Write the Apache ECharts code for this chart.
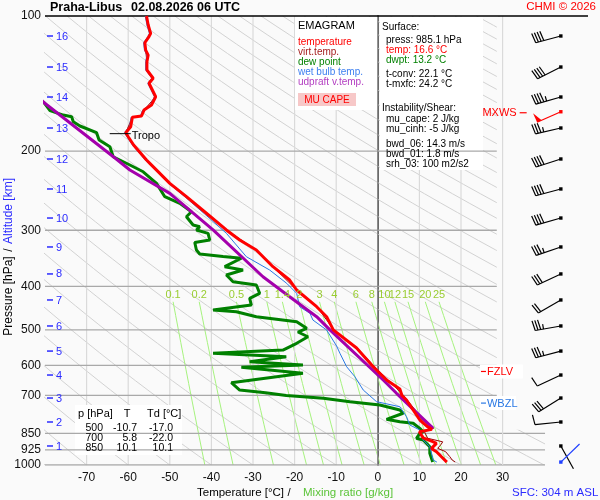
<!DOCTYPE html>
<html>
<head>
<meta charset="utf-8">
<title>Emagram Praha-Libus</title>
<script src="https://cdn.jsdelivr.net/npm/echarts@6.0.0/dist/echarts.min.js"></script>
<style>
html,body{margin:0;padding:0;background:#fafafa;}
#chart{width:600px;height:500px;}
</style>
</head>
<body>
<div id="chart"></div>
<script>
const FONT = "'Liberation Sans', Arial, Helvetica, sans-serif";
const BG = '#fafafa';

// ---------- axes / reference values ----------
const temperatureTicks = [-70, -60, -50, -40, -30, -20, -10, 0, 10, 20, 30];
const pressureTicks = [100, 200, 300, 400, 500, 600, 700, 850, 925, 1000];
const isobars = [200, 300, 400, 500, 600, 700, 850, 925, 1000];
const isothermsLight = [-70, -60, -50, -40, -30, -20, -10, 10, 20];
const altitudeKm = [1, 2, 3, 4, 5, 6, 7, 8, 9, 10, 11, 12, 13, 14, 15, 16];
const altitudeP = [907.1, 802.1, 709.3, 630.4, 557.5, 490.2, 429.0, 375.4, 326.9, 281.8, 242.8, 208.2, 177.6, 151.5, 129.9, 110.8];
const mixingRatios = [0.1, 0.2, 0.5, 1, 1.4, 2, 3, 4, 6, 8, 10, 12, 15, 20, 25];
const dryAdiabatsC = [-80, -70, -60, -50, -40, -30, -20, -10, 0, 10, 20, 30, 40, 50, 60, 70, 80, 90, 100, 110,
  120, 130, 140, 150, 160, 170, 180, 190, 200, 210, 220, 230, 240, 250, 260, 270, 280, 290, 300, 310];

// ---------- sounding: [pressure hPa, value °C] ----------
const temperature = [
  [100,-55.6],[104.7,-55.2],[109.3,-54.6],[111.2,-55.0],[114.7,-56.0],[119.1,-55.8],[122.2,-55.2],[126.4,-55.5],
  [131.9,-55.5],[137.6,-54.0],[141.2,-55.0],[151.3,-53.4],[157.8,-54.4],[162.0,-56.2],[167.0,-56.8],[168.1,-59.0],
  [176.4,-59.4],[181.9,-60.6],[185.7,-60.0],[193.8,-58.7],[209.3,-55.6],[212.9,-54.8],[235.9,-50.0],[252.6,-46.0],
  [275.0,-41.2],[299.6,-36.4],[315.4,-33.2],[332.0,-29.2],[361.7,-25.2],[387.3,-21.2],[407.6,-19.5],[444.1,-14.7],
  [467.4,-12.3],[500.0,-10.7],[548.9,-5.1],[604.0,-1.1],[614.3,-0.3],[646.7,2.1],[677.2,5.3],[700.0,5.8],
  [716.5,6.9],[754.3,8.5],[794.0,10.1],[822.0,12.0],[833.0,13.0],[843.1,10.0],[850.0,10.1],[870.0,10.9],
  [887.0,13.2],[895.0,14.1],[918.5,12.9],[934.0,14.1],[958.3,15.3],[985.1,16.6]
];
const virtualTemperature = [
  [100,-55.6],[109.3,-54.6],[114.7,-56.0],[126.4,-55.5],[131.9,-55.5],[137.6,-54.0],[141.2,-55.0],[151.3,-53.4],
  [162.0,-56.2],[167.0,-56.8],[168.1,-59.0],[181.9,-60.6],[193.8,-58.7],[209.3,-55.6],[235.9,-50.0],[275.0,-41.2],
  [299.6,-36.4],[332.0,-29.2],[361.7,-25.2],[407.6,-19.5],[444.1,-14.6],[500.0,-10.6],[548.9,-4.9],[604.0,-0.8],
  [646.7,2.5],[700.0,6.2],[754.3,9.0],[794.0,10.7],[828.6,13.4],[843.1,11.2],[850.0,11.4],[872.0,12.0],
  [888.0,15.6],[900.0,15.2],[918.0,14.4],[934.0,16.3],[958.0,17.3],[975.0,17.9],[985.1,18.6]
];
const dewPoint = [
  [152.0,-83.0],[156.0,-80.2],[162.5,-78.8],[166.2,-75.6],[167.6,-73.6],[172.0,-73.2],[175.8,-71.6],[181.9,-67.6],
  [188.9,-67.0],[195.5,-64.4],[205.8,-63.6],[214.7,-59.6],[222.3,-56.4],[235.9,-53.2],[252.6,-51.2],[261.3,-47.6],
  [272.8,-44.8],[279.9,-46.0],[292.1,-44.4],[294.6,-42.8],[299.6,-43.6],[304.8,-40.8],[315.4,-40.4],[319.5,-44.0],
  [332.0,-43.6],[338.9,-42.8],[343.2,-37.2],[346.4,-32.8],[361.7,-36.8],[367.9,-32.4],[377.5,-36.4],[390.7,-34.8],
  [397.3,-29.2],[414.6,-28.4],[425.4,-30.8],[440.3,-30.4],[451.7,-39.6],[455.6,-34.0],[467.4,-29.2],[479.6,-19.5],
  [496.2,-17.1],[500.0,-17.0],[505.6,-19.2],[518.0,-16.8],[535.8,-19.5],[554.6,-22.8],[564.0,-39.6],[573.9,-22.0],
  [588.8,-30.8],[598.9,-18.0],[606.0,-32.8],[625.0,-18.0],[655.7,-35.2],[680.8,-33.2],[690.0,-27.0],[700.0,-22.0],
  [710.2,-13.1],[722.8,-6.7],[735.2,0.5],[754.3,5.3],[767.0,6.1],[791.1,2.1],[801.0,5.3],[807.5,8.5],
  [828.6,10.1],[843.1,10.9],[850.0,10.1],[872.1,9.3],[879.6,10.9],[910.4,12.5],[941.9,12.5],[985.1,13.2]
];
const wetBulb = [
  [100,-55.9],[104.7,-55.5],[109.3,-54.9],[111.2,-55.3],[114.7,-56.3],[119.1,-56.1],[122.2,-55.5],[126.4,-55.8],
  [131.9,-55.8],[137.6,-54.3],[141.2,-55.3],[151.3,-53.7],[157.8,-54.7],[162.0,-56.5],[167.0,-57.1],[168.1,-59.3],
  [176.4,-59.7],[181.9,-60.9],[185.7,-60.3],[193.8,-59.0],[209.3,-55.9],[212.9,-55.1],[235.9,-50.3],[252.6,-46.4],
  [276.1,-41.6],[304.8,-36.4],[343.6,-31.6],[367.9,-26.0],[393.9,-21.9],[414.6,-19.5],[444.1,-18.8],[459.5,-16.3],
  [475.5,-15.6],[500.4,-12.3],[543.3,-9.9],[564.0,-9.1],[604.0,-7.5],[636.0,-5.5],[680.8,-3.5],[722.8,-0.3],
  [741.7,5.3],[780.6,6.9],[814.6,7.7],[835.6,10.1],[879.6,10.9],[910.4,12.5],[974.8,13.3],[985.1,14.2]
];
const parcelVirtualTemperature = [
  [150.0,-82.2],[156.0,-80.2],[208.5,-62.8],[220.3,-59.6],[248.3,-50.0],[299.6,-39.6],[380.8,-27.6],
  [421.9,-21.2],[467.4,-14.7],[500.0,-11.5],[646.7,1.3],[692.3,4.5],[828.6,13.3]
];

// ---------- winds: [pressure hPa, direction deg, speed kt] ----------
const windBarbs = [
  [110.8,255,40],[129.9,243,40],[151.5,254,45],[177.6,257,35],[208.2,252,40],[242.8,255,40],
  [281.8,254,40],[326.9,251,35],[375.4,245,30],[429.0,240,20],[490.2,260,35],[557.5,255,35],
  [630.4,245,10],[709.3,238,30],[802.1,264,10],[907.1,151,0]
];
const maxWind = [163.4, 246, 50];
const surfaceWind = [985.1, 46, 0];

// ---------- levels and indices ----------
const tropopause = [181.9, -60.6];
const freezingLevelP = 619;
const wetBulbZeroP = 728;
const tableRows = [[500, -10.7, -17.0], [700, 5.8, -22.0], [850, 10.1, 10.1]];
const surfaceInfo = { press: 985.1, temp: 16.6, dwpt: 13.2, tconv: 22.1, tmxfc: 24.2, height: 304 };
const indices = { muCape: 2, muCinh: -5, bwd06: 14.3, bwd01: 1.8, srh03: 100 };

// ---------- helpers ----------
const toXY = arr => arr.map(d => [d[1], d[0]]);
function mixT(w, p) { const e = w * p / (622 + w); const l = Math.log(e / 6.112); return 243.5 * l / (17.67 - l); }

const series = [];
function refLine(points, color, width, z, clip) {
  series.push({ type: 'line', data: points, showSymbol: false, symbol: 'none', silent: true, animation: false,
    clip: clip !== false, z: z, lineStyle: { color: color, width: width }, emphasis: { disabled: true } });
}

// dry adiabats
dryAdiabatsC.forEach(tc => {
  const th = tc + 273.15; const pts = [];
  for (let i = 0; i <= 48; i++) { const p = 100 * Math.pow(10, i / 48); pts.push([th * Math.pow(p / 1000, 0.2857) - 273.15, p]); }
  refLine(pts, '#d2d2d2', 1, 1);
});
// mixing ratio lines
mixingRatios.forEach(w => {
  const pts = [];
  for (let i = 0; i <= 12; i++) { const p = 433 * Math.pow(1000 / 433, i / 12); pts.push([mixT(w, p), p]); }
  refLine(pts, '#a6f27e', 1, 1);
});
// light isotherms
isothermsLight.forEach(t => refLine([[t, 100], [t, 1000]], '#dadada', 1.2, 1));

// mask behind barbs
series.push({ type: 'custom', z: 2, silent: true, animation: false, clip: false, data: [[0, 500]],
  renderItem: (params, api) => {
    const a = api.coord([28.6, 100]), b = api.coord([50, 830]), c = api.coord([40.2, 830]), d = api.coord([50, 1000]);
    return { type: 'group', children: [
      { type: 'rect', shape: { x: a[0], y: a[1] + 1, width: b[0] - a[0] + 20, height: b[1] - a[1] }, style: { fill: BG } },
      { type: 'rect', shape: { x: c[0], y: c[1] - 1, width: d[0] - c[0] + 20, height: d[1] - c[1] + 6 }, style: { fill: BG } }
    ] };
  } });

// isobars, 0 and 30 isotherm
isobars.forEach(p => refLine([[-80, p], [p >= 850 ? 40.2 : 28.6, p]], '#a9a9a9', 1.3, 4));
refLine([[0, 100], [0, 1000]], '#8f8f8f', 1.5, 4);
refLine([[30, 100], [30, 1000]], '#dadada', 1.2, 4);
// top frame
refLine([[-80, 100], [51, 100]], '#000', 1.5, 6, false);

// sounding curves
function curve(name, data, color, width, z) {
  series.push({ name: name, type: 'line', data: toXY(data), showSymbol: false, symbol: 'none', animation: false,
    silent: true, z: z, lineStyle: { color: color, width: width }, emphasis: { disabled: true } });
}
curve('dew point', dewPoint, '#008000', 3, 5);
curve('virt.temp.', virtualTemperature, '#990000', 1, 6);
curve('wet bulb temp.', wetBulb, '#2a78e4', 1, 7);
curve('udpraft v.temp.', parcelVirtualTemperature, '#a400ac', 3, 8);
curve('temperature', temperature, '#ff0000', 3, 9);

// altitude ticks
series.push({ type: 'custom', z: 10, silent: true, animation: false, clip: false,
  data: altitudeP.map((p, i) => [-80, p, altitudeKm[i]]),
  renderItem: (params, api) => {
    const pt = api.coord([api.value(0), api.value(1)]);
    return { type: 'group', children: [
      { type: 'line', shape: { x1: pt[0] + 2, y1: pt[1], x2: pt[0] + 8, y2: pt[1] }, style: { stroke: '#2b2bff', lineWidth: 1.5 } },
      { type: 'text', x: pt[0] + 11, y: pt[1] + 0.5, style: { text: String(api.value(2)), fill: '#2b2bff', font: '11px ' + FONT,
        align: 'left', verticalAlign: 'middle', textAlign: 'left', textVerticalAlign: 'middle' } }
    ] };
  } });

// mixing ratio labels
series.push({ type: 'custom', z: 10, silent: true, animation: false, clip: false,
  data: mixingRatios.map(w => [mixT(w, 433), 433, w]),
  renderItem: (params, api) => {
    const top = api.coord([api.value(0), 433]);
    const lab = api.coord([api.value(0), 418]);
    return { type: 'text', x: top[0], y: lab[1], style: { text: String(api.value(2)), fill: '#9acd32', font: '11px ' + FONT,
      align: 'center', verticalAlign: 'middle', textAlign: 'center', textVerticalAlign: 'middle' } };
  } });

// wind barbs
const windItems = windBarbs.map(w => [44, w[0], w[1], w[2], 0])
  .concat([[44, maxWind[0], maxWind[1], maxWind[2], 1], [44, surfaceWind[0], surfaceWind[1], surfaceWind[2], 2]]);
const barbColors = ['#000000', '#ff0000', '#2040ff'];
series.push({ type: 'custom', z: 11, silent: true, animation: false, clip: false, data: windItems,
  renderItem: (params, api) => {
    const pt = api.coord([api.value(0), api.value(1)]);
    const dir = api.value(2) * Math.PI / 180;
    let s = api.value(3);
    const color = barbColors[api.value(4)];
    const ux = Math.sin(dir), uy = -Math.cos(dir), L = 26;
    const ex = pt[0] + ux * L, ey = pt[1] + uy * L;
    const px = -uy, py = ux;
    const ch = [
      { type: 'line', shape: { x1: pt[0], y1: pt[1], x2: ex, y2: ey }, style: { stroke: color, lineWidth: 1.2 } },
      { type: 'rect', shape: { x: pt[0] - 1.7, y: pt[1] - 1.7, width: 3.4, height: 3.4 }, style: { fill: color } }
    ];
    let pos = 0;
    while (s >= 50) {
      const ax = ex - ux * pos, ay = ey - uy * pos, bx = ex - ux * (pos + 5), by = ey - uy * (pos + 5);
      ch.push({ type: 'polygon', shape: { points: [[ax, ay], [bx, by], [ax + px * 10, ay + py * 10]] }, style: { fill: color } });
      pos += 6; s -= 50;
    }
    while (s >= 10) {
      const ax = ex - ux * pos, ay = ey - uy * pos;
      ch.push({ type: 'line', shape: { x1: ax, y1: ay, x2: ax + px * 10 + ux * 1.5, y2: ay + py * 10 + uy * 1.5 }, style: { stroke: color, lineWidth: 1.2 } });
      pos += 2.8; s -= 10;
    }
    if (s >= 5) {
      const ax = ex - ux * pos, ay = ey - uy * pos;
      ch.push({ type: 'line', shape: { x1: ax, y1: ay, x2: ax + px * 5, y2: ay + py * 5 }, style: { stroke: color, lineWidth: 1.2 } });
    }
    return { type: 'group', children: ch };
  } });

// level annotations
const annItems = [[tropopause[1], tropopause[0], 0], [24.8, freezingLevelP, 1], [24.8, wetBulbZeroP, 2], [34.1, maxWind[0], 3]];
series.push({ type: 'custom', z: 12, silent: true, animation: false, clip: false, data: annItems,
  renderItem: (params, api) => {
    const pt = api.coord([api.value(0), api.value(1)]);
    const k = api.value(2);
    const txt = (x, y, t, fill, align) => ({ type: 'text', x: x, y: y, style: { text: t, fill: fill, font: '11px ' + FONT,
      align: align, verticalAlign: 'middle', textAlign: align, textVerticalAlign: 'middle' } });
    if (k === 0) return { type: 'group', children: [
      { type: 'line', shape: { x1: pt[0] - 16, y1: pt[1] + 1, x2: pt[0] + 5, y2: pt[1] + 1 }, style: { stroke: '#000', lineWidth: 1 } },
      txt(pt[0] + 6, pt[1] + 3, 'Tropo', '#000', 'left') ] };
    if (k === 1 || k === 2) {
      const col = k === 1 ? '#ff0000' : '#2a78e4';
      return { type: 'group', children: [
        { type: 'rect', shape: { x: pt[0] - 1, y: pt[1] - 7, width: k === 1 ? 43 : 36, height: 14 }, style: { fill: '#ffffff' } },
        { type: 'line', shape: { x1: pt[0], y1: pt[1], x2: pt[0] + 5, y2: pt[1] }, style: { stroke: col, lineWidth: 1.2 } },
        txt(pt[0] + 6, pt[1] + 0.5, k === 1 ? 'FZLV' : 'WBZL', col, 'left') ] };
    }
    return { type: 'group', children: [
      { type: 'line', shape: { x1: pt[0], y1: pt[1] + 1, x2: pt[0] + 7, y2: pt[1] + 1 }, style: { stroke: '#ff0000', lineWidth: 1.2 } },
      txt(pt[0] - 3, pt[1] + 1.5, 'MXWS', '#ff0000', 'right') ] };
  } });

// ---------- static texts / panels ----------
const G = [];
function T(x, y, text, color, size, opts) {
  opts = opts || {};
  const al = opts.align || 'left';
  G.push({ type: 'text', x: x, y: y, z: 20, rotation: opts.rotation || 0,
    style: { text: text, fill: color, font: (opts.bold ? 'bold ' : '') + size + 'px ' + FONT,
      align: al, verticalAlign: 'middle', textAlign: al, textVerticalAlign: 'middle' } });
}
function R(x, y, w, h, fill, z) { G.push({ type: 'rect', z: z, shape: { x: x, y: y, width: w, height: h }, style: { fill: fill } }); }

T(50, 8, 'Praha-Libus', '#000', 12.5, { bold: true });
T(131, 8, '02.08.2026 06 UTC', '#000', 12.5, { bold: true });
T(596, 7, 'CHMI \u00a9 2026', '#ff0000', 11.5, { align: 'right' });

// legend box
R(295, 17, 83, 93, '#ffffff', 3);
T(298, 26, 'EMAGRAM', '#000', 11);
T(298, 42, 'temperature', '#ff0000', 10);
T(298, 52, 'virt.temp.', '#a52020', 10);
T(298, 62, 'dew point', '#008000', 10);
T(298, 72, 'wet bulb temp.', '#3c7ff0', 10);
T(298, 82, 'udpraft v.temp.', '#b23cc0', 10);
R(298, 93, 58, 13, '#f7c8c8', 4);
T(327, 100, 'MU CAPE', '#ff0000', 10, { align: 'center' });

// info panel
R(380, 17, 103, 153, '#ffffff', 3);
T(382, 27.5, 'Surface:', '#000', 10);
T(386, 40, 'press: ' + surfaceInfo.press.toFixed(1) + ' hPa', '#000', 10);
T(386, 50, 'temp: ' + surfaceInfo.temp.toFixed(1) + ' \u00b0C', '#ff0000', 10);
T(386, 60, 'dwpt: ' + surfaceInfo.dwpt.toFixed(1) + ' \u00b0C', '#008000', 10);
T(386, 74, 't-conv: ' + surfaceInfo.tconv.toFixed(1) + ' \u00b0C', '#000', 10);
T(386, 84.5, 't-mxfc: ' + surfaceInfo.tmxfc.toFixed(1) + ' \u00b0C', '#000', 10);
T(382, 108.5, 'Instability/Shear:', '#000', 10);
T(386, 119.5, 'mu_cape: ' + indices.muCape + ' J/kg', '#000', 10);
T(386, 129.5, 'mu_cinh: ' + indices.muCinh + ' J/kg', '#000', 10);
T(386, 144.5, 'bwd_06: ' + indices.bwd06.toFixed(1) + ' m/s', '#000', 10);
T(386, 154.5, 'bwd_01: ' + indices.bwd01.toFixed(1) + ' m/s', '#000', 10);
T(386, 164.5, 'srh_03: ' + indices.srh03 + ' m2/s2', '#000', 10);

// table
R(75, 405, 107, 50, '#ffffff', 3);
T(78, 413.5, 'p [hPa]', '#000', 11);
T(127, 413.5, 'T', '#000', 11, { align: 'center' });
T(147, 413.5, 'Td [\u00b0C]', '#000', 11);
tableRows.forEach((r, i) => {
  const y = 428.5 + i * 10;
  T(103, y, String(r[0]), '#000', 10.5, { align: 'right' });
  T(137, y, r[1].toFixed(1), '#000', 10.5, { align: 'right' });
  T(173, y, r[2].toFixed(1), '#000', 10.5, { align: 'right' });
});

// axis titles
T(197, 493, 'Temperature [\u00b0C]', '#000', 11.5);
T(289, 493, '/', '#000', 11.5, { align: 'center' });
T(303, 493, 'Mixing ratio [g/kg]', '#5cc43a', 11.5);
T(512, 493, 'SFC: ' + surfaceInfo.height + ' m ASL', '#2b2bff', 11.5);
T(9, 296, 'Pressure [hPa]', '#000', 12, { align: 'center', rotation: Math.PI / 2 });
T(9, 250, '/', '#000', 12, { align: 'center', rotation: Math.PI / 2 });
T(9, 211, 'Altitude [km]', '#2b2bff', 12, { align: 'center', rotation: Math.PI / 2 });

const chart = echarts.init(document.getElementById('chart'), null, { renderer: 'canvas' });
chart.setOption({
  backgroundColor: BG,
  animation: false,
  textStyle: { fontFamily: FONT },
  grid: { left: 45, right: 14.2, top: 16, bottom: 35, containLabel: false },
  xAxis: {
    type: 'value', min: -80, max: 50, interval: 10,
    axisLine: { show: false }, axisTick: { show: false }, splitLine: { show: false },
    axisLabel: { customValues: temperatureTicks, formatter: v => (v < -75 || v > 35) ? '' : String(v),
      fontSize: 12, color: '#111', margin: 7, fontFamily: FONT }
  },
  yAxis: {
    type: 'log', logBase: 10, min: 100, max: 1000, inverse: true,
    axisLine: { show: true, lineStyle: { color: '#000', width: 1.5 } },
    axisTick: { show: false }, splitLine: { show: false }, minorSplitLine: { show: false },
    axisLabel: { customValues: pressureTicks, formatter: v => String(Math.round(v)),
      fontSize: 12, color: '#111', margin: 4, fontFamily: FONT }
  },
  graphic: { elements: G },
  series: series
});
</script>
</body>
</html>
